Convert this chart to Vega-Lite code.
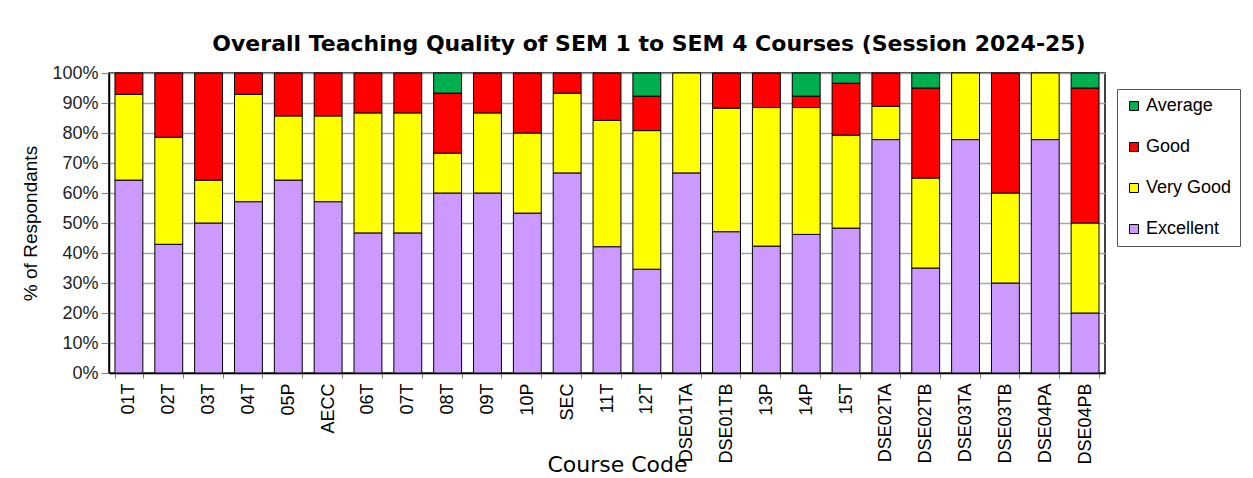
{
  "$schema": "https://vega.github.io/schema/vega-lite/v6.json",
  "width": 996,
  "height": 300,
  "autosize": "none",
  "padding": {"left": 109, "top": 73, "right": 148, "bottom": 105},
  "background": "white",
  "config": {
    "font": "Liberation Sans",
    "view": {"stroke": "black", "strokeWidth": 1.5}
  },
  "title": {
    "text": "Overall Teaching Quality of SEM 1 to SEM 4 Courses (Session 2024-25)",
    "fontSize": 22,
    "fontWeight": "bold",
    "font": "DejaVu Sans",
    "color": "black",
    "anchor": "middle",
    "frame": "group",
    "dx": 42,
    "offset": -9,
    "baseline": "alphabetic"
  },
  "data": {
    "values": [
      {"course": "01T", "rating": "Excellent", "pct": 64.3, "rank": 1},
      {"course": "01T", "rating": "Very Good", "pct": 28.6, "rank": 2},
      {"course": "01T", "rating": "Good", "pct": 7.1, "rank": 3},
      {"course": "02T", "rating": "Excellent", "pct": 42.9, "rank": 1},
      {"course": "02T", "rating": "Very Good", "pct": 35.7, "rank": 2},
      {"course": "02T", "rating": "Good", "pct": 21.4, "rank": 3},
      {"course": "03T", "rating": "Excellent", "pct": 50.0, "rank": 1},
      {"course": "03T", "rating": "Very Good", "pct": 14.3, "rank": 2},
      {"course": "03T", "rating": "Good", "pct": 35.7, "rank": 3},
      {"course": "04T", "rating": "Excellent", "pct": 57.1, "rank": 1},
      {"course": "04T", "rating": "Very Good", "pct": 35.8, "rank": 2},
      {"course": "04T", "rating": "Good", "pct": 7.1, "rank": 3},
      {"course": "05P", "rating": "Excellent", "pct": 64.3, "rank": 1},
      {"course": "05P", "rating": "Very Good", "pct": 21.4, "rank": 2},
      {"course": "05P", "rating": "Good", "pct": 14.3, "rank": 3},
      {"course": "AECC", "rating": "Excellent", "pct": 57.1, "rank": 1},
      {"course": "AECC", "rating": "Very Good", "pct": 28.6, "rank": 2},
      {"course": "AECC", "rating": "Good", "pct": 14.3, "rank": 3},
      {"course": "06T", "rating": "Excellent", "pct": 46.7, "rank": 1},
      {"course": "06T", "rating": "Very Good", "pct": 40.0, "rank": 2},
      {"course": "06T", "rating": "Good", "pct": 13.3, "rank": 3},
      {"course": "07T", "rating": "Excellent", "pct": 46.7, "rank": 1},
      {"course": "07T", "rating": "Very Good", "pct": 40.0, "rank": 2},
      {"course": "07T", "rating": "Good", "pct": 13.3, "rank": 3},
      {"course": "08T", "rating": "Excellent", "pct": 60.0, "rank": 1},
      {"course": "08T", "rating": "Very Good", "pct": 13.3, "rank": 2},
      {"course": "08T", "rating": "Good", "pct": 20.0, "rank": 3},
      {"course": "08T", "rating": "Average", "pct": 6.7, "rank": 4},
      {"course": "09T", "rating": "Excellent", "pct": 60.0, "rank": 1},
      {"course": "09T", "rating": "Very Good", "pct": 26.7, "rank": 2},
      {"course": "09T", "rating": "Good", "pct": 13.3, "rank": 3},
      {"course": "10P", "rating": "Excellent", "pct": 53.3, "rank": 1},
      {"course": "10P", "rating": "Very Good", "pct": 26.7, "rank": 2},
      {"course": "10P", "rating": "Good", "pct": 20.0, "rank": 3},
      {"course": "SEC", "rating": "Excellent", "pct": 66.7, "rank": 1},
      {"course": "SEC", "rating": "Very Good", "pct": 26.6, "rank": 2},
      {"course": "SEC", "rating": "Good", "pct": 6.7, "rank": 3},
      {"course": "11T", "rating": "Excellent", "pct": 42.1, "rank": 1},
      {"course": "11T", "rating": "Very Good", "pct": 42.1, "rank": 2},
      {"course": "11T", "rating": "Good", "pct": 15.8, "rank": 3},
      {"course": "12T", "rating": "Excellent", "pct": 34.6, "rank": 1},
      {"course": "12T", "rating": "Very Good", "pct": 46.2, "rank": 2},
      {"course": "12T", "rating": "Good", "pct": 11.5, "rank": 3},
      {"course": "12T", "rating": "Average", "pct": 7.7, "rank": 4},
      {"course": "DSE01TA", "rating": "Excellent", "pct": 66.7, "rank": 1},
      {"course": "DSE01TA", "rating": "Very Good", "pct": 33.3, "rank": 2},
      {"course": "DSE01TB", "rating": "Excellent", "pct": 47.1, "rank": 1},
      {"course": "DSE01TB", "rating": "Very Good", "pct": 41.2, "rank": 2},
      {"course": "DSE01TB", "rating": "Good", "pct": 11.7, "rank": 3},
      {"course": "13P", "rating": "Excellent", "pct": 42.3, "rank": 1},
      {"course": "13P", "rating": "Very Good", "pct": 46.2, "rank": 2},
      {"course": "13P", "rating": "Good", "pct": 11.5, "rank": 3},
      {"course": "14P", "rating": "Excellent", "pct": 46.2, "rank": 1},
      {"course": "14P", "rating": "Very Good", "pct": 42.3, "rank": 2},
      {"course": "14P", "rating": "Good", "pct": 3.8, "rank": 3},
      {"course": "14P", "rating": "Average", "pct": 7.7, "rank": 4},
      {"course": "15T", "rating": "Excellent", "pct": 48.3, "rank": 1},
      {"course": "15T", "rating": "Very Good", "pct": 31.0, "rank": 2},
      {"course": "15T", "rating": "Good", "pct": 17.3, "rank": 3},
      {"course": "15T", "rating": "Average", "pct": 3.4, "rank": 4},
      {"course": "DSE02TA", "rating": "Excellent", "pct": 77.8, "rank": 1},
      {"course": "DSE02TA", "rating": "Very Good", "pct": 11.1, "rank": 2},
      {"course": "DSE02TA", "rating": "Good", "pct": 11.1, "rank": 3},
      {"course": "DSE02TB", "rating": "Excellent", "pct": 35.0, "rank": 1},
      {"course": "DSE02TB", "rating": "Very Good", "pct": 30.0, "rank": 2},
      {"course": "DSE02TB", "rating": "Good", "pct": 30.0, "rank": 3},
      {"course": "DSE02TB", "rating": "Average", "pct": 5.0, "rank": 4},
      {"course": "DSE03TA", "rating": "Excellent", "pct": 77.8, "rank": 1},
      {"course": "DSE03TA", "rating": "Very Good", "pct": 22.2, "rank": 2},
      {"course": "DSE03TB", "rating": "Excellent", "pct": 30.0, "rank": 1},
      {"course": "DSE03TB", "rating": "Very Good", "pct": 30.0, "rank": 2},
      {"course": "DSE03TB", "rating": "Good", "pct": 40.0, "rank": 3},
      {"course": "DSE04PA", "rating": "Excellent", "pct": 77.8, "rank": 1},
      {"course": "DSE04PA", "rating": "Very Good", "pct": 22.2, "rank": 2},
      {"course": "DSE04PB", "rating": "Excellent", "pct": 20.0, "rank": 1},
      {"course": "DSE04PB", "rating": "Very Good", "pct": 30.0, "rank": 2},
      {"course": "DSE04PB", "rating": "Good", "pct": 45.0, "rank": 3},
      {"course": "DSE04PB", "rating": "Average", "pct": 5.0, "rank": 4}
    ]
  },
  "mark": {"type": "bar", "stroke": "black", "strokeWidth": 1},
  "encoding": {
    "x": {
      "field": "course",
      "type": "nominal",
      "sort": null,
      "scale": {"paddingInner": 0.3, "paddingOuter": 0.15},
      "axis": {
        "title": "Course Code",
        "titleFont": "DejaVu Sans",
        "titleFontSize": 22,
        "titleFontWeight": "normal",
        "titleColor": "black",
        "titleX": 508,
        "titleY": 98,
        "titleAlign": "center",
        "titleBaseline": "alphabetic",
        "labelAngle": -90,
        "labelFontSize": 18,
        "labelColor": "black",
        "labelPadding": 5,
        "tickBand": "extent",
        "tickSize": 5,
        "tickColor": "#808080",
        "domainColor": "black",
        "domainWidth": 1.5
      }
    },
    "y": {
      "field": "pct",
      "type": "quantitative",
      "stack": "normalize",
      "scale": {"domain": [0, 1]},
      "axis": {
        "title": "% of Respondants",
        "titleFontSize": 19,
        "titleFontWeight": "normal",
        "titleColor": "black",
        "titlePadding": 11,
        "format": ".0%",
        "values": [0, 0.1, 0.2, 0.3, 0.4, 0.5, 0.6, 0.7, 0.8, 0.9, 1.0],
        "labelFontSize": 18,
        "labelColor": "#222",
        "labelPadding": 3,
        "tickSize": 8,
        "tickColor": "#808080",
        "gridColor": "#a6a6a6",
        "gridWidth": 1.5,
        "domainColor": "black",
        "domainWidth": 1.5
      }
    },
    "color": {
      "field": "rating",
      "type": "nominal",
      "scale": {
        "domain": ["Average", "Good", "Very Good", "Excellent"],
        "range": ["#00B050", "#FF0000", "#FFFF00", "#CC99FF"]
      },
      "legend": {
        "title": null,
        "orient": "none",
        "legendX": 1008,
        "legendY": 16,
        "symbolType": "square",
        "symbolSize": 81,
        "symbolStrokeColor": "black",
        "symbolStrokeWidth": 1,
        "symbolOpacity": 1,
        "labelFontSize": 18,
        "labelColor": "black",
        "labelOffset": 3,
        "rowPadding": 23,
        "padding": 8,
        "strokeColor": "#555",
        "fillColor": "white"
      }
    },
    "order": {"field": "rank", "type": "quantitative"}
  }
}
